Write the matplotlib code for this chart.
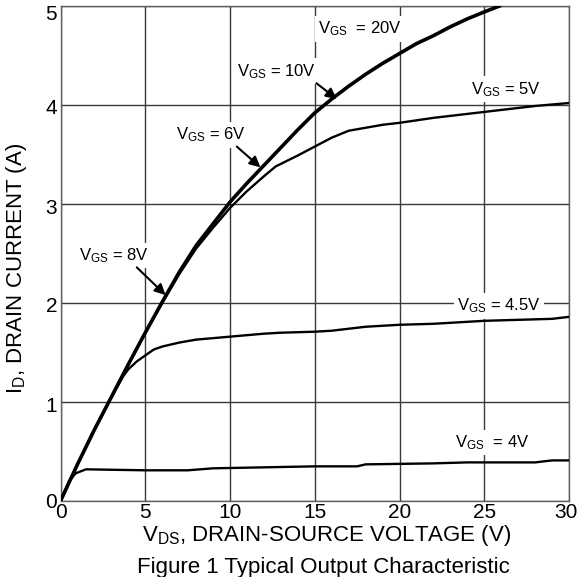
import matplotlib
matplotlib.use("Agg")
import matplotlib.pyplot as plt
from matplotlib.transforms import ScaledTranslation

plt.rcParams['font.family'] = ['Liberation Sans', 'DejaVu Sans']
plt.rcParams['mathtext.fontset'] = 'custom'
plt.rcParams['mathtext.rm'] = 'Liberation Sans'
plt.rcParams['mathtext.it'] = 'Liberation Sans:italic'
plt.rcParams['mathtext.bf'] = 'Liberation Sans:bold'

# ---- data ----
# common curve for VGS = 6V, 8V, 10V, 20V (overlapping)
vds_hi = [0, 1, 2, 3, 4, 5, 6, 7, 8, 9, 10, 11, 12, 13, 14, 15,
          16, 17, 18, 19, 20, 21, 22, 23, 24, 25, 25.9]
id_hi = [0, 0.37, 0.72, 1.05, 1.38, 1.70, 2.01, 2.31, 2.58, 2.80,
         3.02, 3.21, 3.39, 3.57, 3.75, 3.92, 4.06, 4.19, 4.31, 4.42, 4.52, 4.62,
         4.70, 4.79, 4.87, 4.94, 5.0]

vds_5 = [0, 1, 2, 3, 4, 5, 6, 7, 8, 9, 10, 11, 12, 12.7, 14, 15,
         16, 17, 18, 19, 20, 22, 24, 25, 27, 28, 30]
id_5 = [0, 0.37, 0.72, 1.05, 1.38, 1.70, 2.00, 2.29, 2.55, 2.76,
        2.96, 3.13, 3.28, 3.38, 3.49, 3.58, 3.67, 3.74, 3.77, 3.80, 3.82, 3.87,
        3.91, 3.93, 3.97, 3.99, 4.02]

vds_45 = [0, 1, 2, 3, 3.4, 3.7, 4, 4.5, 5, 5.5, 6, 7, 8, 10, 12, 13, 15, 16,
          17, 18, 20, 22, 23, 25, 27, 29, 30]
id_45 = [0, 0.37, 0.72, 1.05, 1.17, 1.26, 1.33, 1.41, 1.47, 1.53, 1.56, 1.60,
         1.63, 1.66, 1.69, 1.70, 1.71, 1.72, 1.74, 1.76, 1.78, 1.79, 1.80, 1.82,
         1.83, 1.84, 1.86]

vds_4 = [0, 0.3, 0.5, 0.9, 1.5, 5, 7.5, 9, 12, 15, 17.5, 18, 22, 24, 28, 29, 30]
id_4 = [0, 0.12, 0.2, 0.28, 0.32, 0.31, 0.31, 0.33, 0.34, 0.35, 0.35, 0.37,
        0.38, 0.39, 0.39, 0.41, 0.41]

x_ticks = [0, 5, 10, 15, 20, 25, 30]
y_ticks = [0, 1, 2, 3, 4, 5]

# labels: (text, text x, text y[, arrow tail, arrow head])
labels_plain = [
    (r'V$_{\mathrm{GS}}$  = 20V', 15.2, 4.77),
    (r'V$_{\mathrm{GS}}$ = 5V', 24.2, 4.16),
    (r'V$_{\mathrm{GS}}$ = 4.5V', 23.4, 1.97),
    (r'V$_{\mathrm{GS}}$  = 4V', 23.3, 0.59),
]
labels_arrow = [
    (r'V$_{\mathrm{GS}}$ = 10V', 10.4, 4.34, (15.1, 4.22), (16.3, 4.06)),
    (r'V$_{\mathrm{GS}}$ = 6V', 6.8, 3.70, (10.4, 3.58), (11.8, 3.37)),
    (r'V$_{\mathrm{GS}}$ = 8V', 1.1, 2.48, (4.5, 2.36), (6.2, 2.08)),
]

W, H = 579, 577
fig = plt.figure(figsize=(W / 100, H / 100), dpi=100)
ax = fig.add_axes([60.5 / W, 1 - 501 / H, 508.5 / W, 495 / H])

ax.plot(vds_hi, id_hi, color='black', lw=2.6, zorder=4)
ax.plot(vds_5, id_5, color='black', lw=1.7, zorder=4)
ax.plot(vds_45, id_45, color='black', lw=1.7, zorder=4)
ax.plot(vds_4, id_4, color='black', lw=1.7, zorder=4)

ax.set_xlim(0, 30)
ax.set_ylim(0, 5)
ax.set_xticks(x_ticks)
ax.set_yticks(y_ticks)
ax.set_xticklabels([str(v) for v in x_ticks])
ax.set_yticklabels([str(v) for v in y_ticks])
ax.tick_params(length=0, labelsize=15, colors='black')
ax.tick_params(axis='x', pad=1.5)
ax.tick_params(axis='y', pad=2.5)
ax.grid(True, color='#3a3a3a', lw=1.0, zorder=1)
ax.set_axisbelow(True)
for s in ax.spines.values():
    s.set_color('#606060')
    s.set_linewidth(1.0)

# small downward nudge of y tick labels as in the reference
for lab, v in zip(ax.get_yticklabels(), y_ticks):
    dy = 0 if v == 0 else (7 if v == 5 else 2)
    lab.set_transform(lab.get_transform() + ScaledTranslation(0, -dy / 100, fig.dpi_scale_trans))
# keep the last x tick label inside the figure
for lab, v in zip(ax.get_xticklabels(), x_ticks):
    if v == x_ticks[-1]:
        lab.set_transform(lab.get_transform() + ScaledTranslation(-3 / 100, 0, fig.dpi_scale_trans))

bbox = dict(facecolor='white', edgecolor='none', pad=2.5)
for txt, tx, ty in labels_plain:
    ax.text(tx, ty, txt, fontsize=12, ha='left', va='center', bbox=bbox, zorder=3)
for txt, tx, ty, tail, head in labels_arrow:
    ax.text(tx, ty, txt, fontsize=12, ha='left', va='center', bbox=bbox, zorder=3)
    ax.annotate('', xy=head, xytext=tail,
                arrowprops=dict(arrowstyle='-|>', color='black', lw=1.5,
                                mutation_scale=16, shrinkA=0, shrinkB=0),
                zorder=5)

fig.text(17 / W, 1 - 268 / H, r'I$_{\mathrm{D}}$, DRAIN CURRENT (A)', rotation=90,
         fontsize=16, ha='center', va='center')
fig.text(327 / W, 1 - 535 / H, r'V$_{\mathrm{DS}}$, DRAIN-SOURCE VOLTAGE (V)',
         fontsize=16, ha='center', va='center')
fig.text(323 / W, 1 - 567 / H, 'Figure 1 Typical Output Characteristic',
         fontsize=16, ha='center', va='center')

fig.savefig('out.png', dpi=100)
